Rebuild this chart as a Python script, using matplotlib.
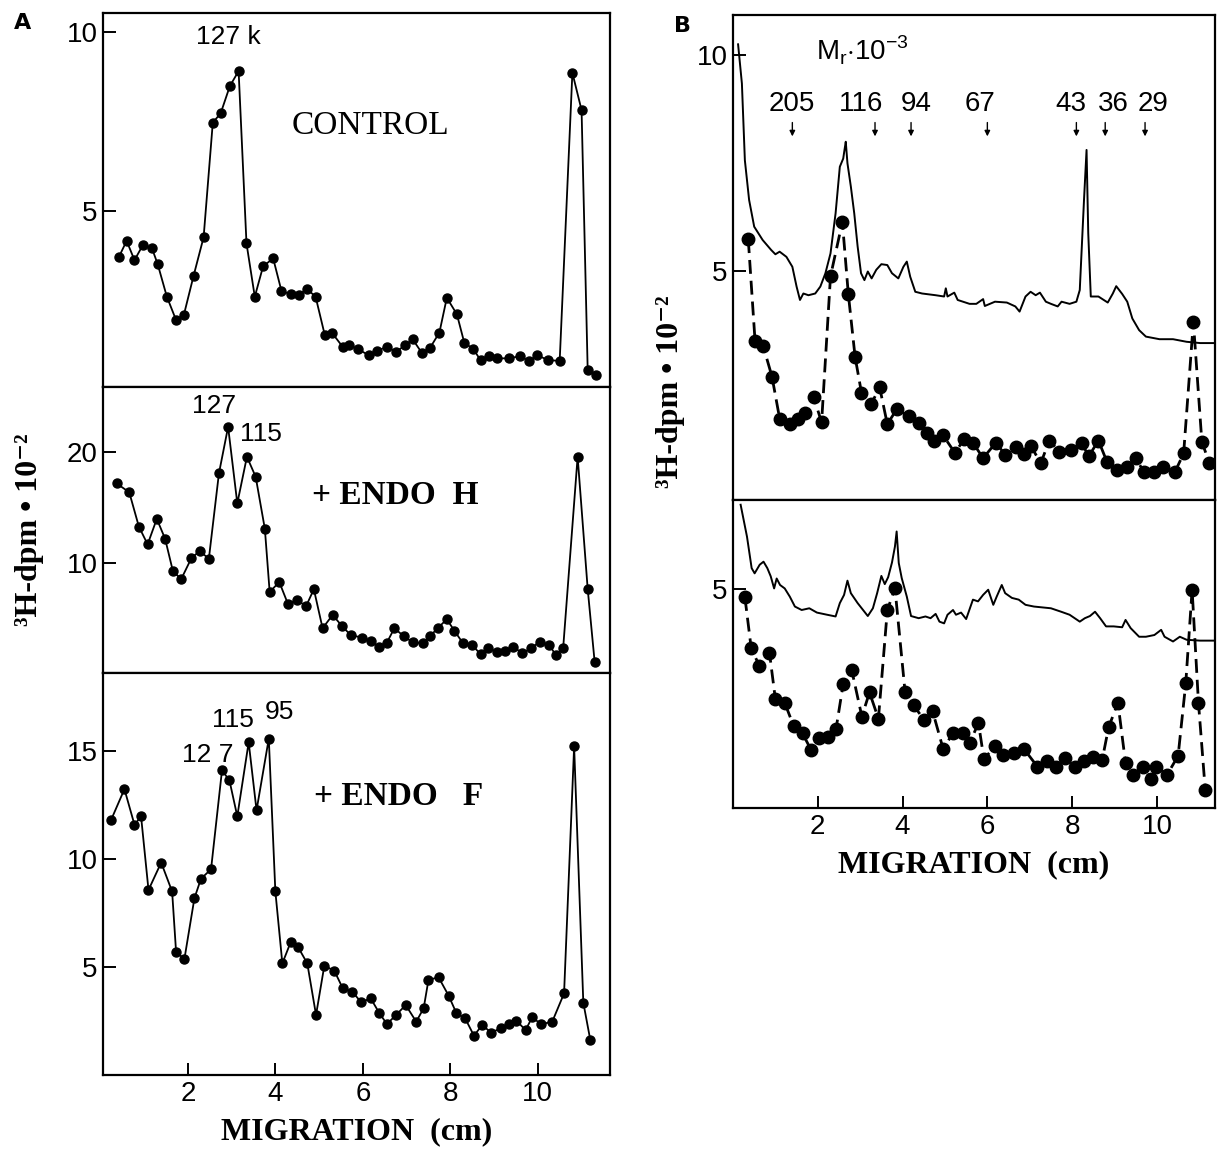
import numpy as np
import matplotlib.pyplot as plt

# ---- panel A data (migration in cm, 3H-dpm x 10^-2) ----
ctrl_x = [0.42, 0.60, 0.78, 0.97, 1.18, 1.31, 1.52, 1.73, 1.91, 2.13, 2.36, 2.57, 2.75, 2.96, 3.16,
          3.34, 3.53, 3.72, 3.95, 4.14, 4.35, 4.54, 4.72, 4.92, 5.13, 5.29, 5.54, 5.69, 5.90, 6.13,
          6.32, 6.55, 6.76, 6.97, 7.14, 7.35, 7.54, 7.75, 7.92, 8.15, 8.32, 8.52, 8.69, 8.88, 9.07,
          9.34, 9.59, 9.80, 9.99, 10.23, 10.50, 10.79, 11.00, 11.14, 11.33]
ctrl_y = [3.70, 4.16, 3.62, 4.04, 3.95, 3.51, 2.60, 1.95, 2.10, 3.18, 4.26, 7.46, 7.72, 8.48, 8.90,
          4.09, 2.60, 3.45, 3.67, 2.76, 2.67, 2.65, 2.82, 2.60, 1.53, 1.60, 1.20, 1.25, 1.13, 0.97,
          1.09, 1.20, 1.06, 1.25, 1.41, 1.03, 1.18, 1.60, 2.57, 2.11, 1.31, 1.15, 0.83, 0.94, 0.88,
          0.88, 0.94, 0.81, 0.97, 0.83, 0.81, 8.85, 7.81, 0.55, 0.41]

endoh_x = [0.37, 0.66, 0.88, 1.08, 1.29, 1.48, 1.66, 1.85, 2.08, 2.27, 2.48, 2.71, 2.92, 3.13, 3.35,
           3.55, 3.76, 3.87, 4.09, 4.29, 4.50, 4.70, 4.88, 5.08, 5.31, 5.52, 5.72, 5.98, 6.18, 6.36,
           6.55, 6.72, 6.93, 7.14, 7.37, 7.54, 7.71, 7.92, 8.09, 8.29, 8.50, 8.69, 8.86, 9.06, 9.26,
           9.44, 9.64, 9.85, 10.04, 10.26, 10.41, 10.58, 10.91, 11.14, 11.30]
endoh_y = [17.2, 16.4, 13.3, 11.7, 14.0, 12.2, 9.25, 8.58, 10.45, 11.1, 10.4, 18.1, 22.3, 15.4, 19.6,
           17.8, 13.1, 7.4, 8.3, 6.3, 6.7, 6.1, 7.65, 4.13, 5.33, 4.34, 3.52, 3.28, 2.98, 2.47,
           2.83, 4.13, 3.43, 2.86, 2.77, 3.43, 4.13, 4.94, 3.92, 2.77, 2.62, 1.78, 2.32, 2.02, 2.11,
           2.47, 1.87, 2.32, 2.92, 2.62, 1.72, 2.38, 19.6, 7.68, 1.05]

endof_x = [0.24, 0.55, 0.78, 0.93, 1.10, 1.39, 1.64, 1.73, 1.92, 2.15, 2.30, 2.53, 2.78, 2.95, 3.13,
           3.39, 3.57, 3.85, 4.00, 4.16, 4.35, 4.52, 4.73, 4.93, 5.12, 5.35, 5.54, 5.76, 5.96, 6.18,
           6.37, 6.55, 6.76, 6.98, 7.22, 7.39, 7.50, 7.73, 7.96, 8.14, 8.34, 8.54, 8.73, 8.93, 9.15,
           9.34, 9.51, 9.72, 9.87, 10.08, 10.33, 10.60, 10.83, 11.04, 11.20]
endof_y = [11.77, 13.22, 11.57, 11.96, 8.55, 9.82, 8.48, 5.70, 5.34, 8.17, 9.07, 9.51, 14.09, 13.63, 11.96,
           15.39, 12.24, 15.56, 8.48, 5.15, 6.13, 5.90, 5.15, 2.76, 5.05, 4.80, 4.00, 3.84, 3.35, 3.53,
           2.87, 2.34, 2.76, 3.22, 2.45, 3.07, 4.38, 4.51, 3.66, 2.84, 2.60, 1.80, 2.30, 1.94, 2.14,
           2.34, 2.50, 2.06, 2.65, 2.33, 2.45, 3.76, 15.20, 3.33, 1.60]

# ---- panel B data ----
b1_dot_x = [0.36, 0.52, 0.71, 0.92, 1.10, 1.34, 1.54, 1.70, 1.90, 2.09, 2.30, 2.58, 2.72, 2.88, 3.03,
            3.26, 3.46, 3.64, 3.86, 4.14, 4.38, 4.58, 4.74, 4.95, 5.23, 5.46, 5.66, 5.90, 6.20, 6.42,
            6.68, 6.86, 7.03, 7.26, 7.46, 7.70, 7.98, 8.23, 8.39, 8.62, 8.82, 9.06, 9.30, 9.50, 9.70,
            9.94, 10.15, 10.42, 10.63, 10.86, 11.06, 11.24]
b1_dot_y = [5.73, 3.37, 3.26, 2.54, 1.57, 1.44, 1.57, 1.69, 2.08, 1.48, 4.87, 6.13, 4.46, 3.00, 2.17,
            1.91, 2.29, 1.44, 1.78, 1.63, 1.46, 1.23, 1.06, 1.19, 0.78, 1.09, 1.01, 0.65, 1.01, 0.73,
            0.92, 0.75, 0.93, 0.53, 1.06, 0.80, 0.83, 1.00, 0.69, 1.06, 0.57, 0.38, 0.45, 0.65, 0.32,
            0.32, 0.45, 0.32, 0.76, 3.81, 1.03, 0.53]

b1_trace_x = [0.12, 0.21, 0.28, 0.38, 0.50, 0.70, 0.90, 1.00, 1.10, 1.26, 1.40, 1.50, 1.58, 1.66, 1.78,
              1.94, 2.06, 2.18, 2.30, 2.42, 2.52, 2.60, 2.63, 2.66, 2.70, 2.78, 2.86, 2.94, 3.02, 3.10,
              3.18, 3.27, 3.38, 3.50, 3.64, 3.75, 3.90, 4.02, 4.10, 4.18, 4.30, 4.46, 4.78, 4.98, 5.02,
              5.06, 5.22, 5.30, 5.58, 5.74, 5.90, 5.94, 6.18, 6.46, 6.66, 6.76, 6.90, 7.02, 7.14, 7.24,
              7.38, 7.50, 7.66, 7.75, 7.94, 8.10, 8.18, 8.28, 8.34, 8.38, 8.44, 8.62, 8.84, 8.96, 9.04,
              9.18, 9.30, 9.42, 9.58, 9.74, 10.06, 10.38, 10.70, 11.02, 11.37]
b1_trace_y = [10.25, 9.34, 7.56, 6.64, 6.02, 5.71, 5.48, 5.38, 5.44, 5.32, 5.09, 4.63, 4.32, 4.47, 4.43,
              4.47, 4.63, 4.94, 5.40, 6.33, 7.41, 7.60, 7.80, 7.99, 7.49, 6.95, 6.33, 5.56, 4.94, 4.78,
              4.98, 4.82, 5.02, 5.15, 5.13, 4.94, 4.82, 5.09, 5.21, 4.86, 4.51, 4.47, 4.43, 4.40, 4.59,
              4.40, 4.49, 4.32, 4.23, 4.23, 4.34, 4.18, 4.28, 4.26, 4.17, 4.05, 4.40, 4.51, 4.43, 4.49,
              4.28, 4.23, 4.17, 4.28, 4.23, 4.28, 4.55, 6.64, 7.80, 5.87, 4.40, 4.40, 4.26, 4.47, 4.64,
              4.46, 4.28, 3.89, 3.62, 3.47, 3.41, 3.41, 3.35, 3.32, 3.32]

b2_dot_x = [0.28, 0.43, 0.62, 0.86, 1.00, 1.22, 1.43, 1.64, 1.84, 2.03, 2.23, 2.43, 2.60, 2.80, 3.04,
            3.22, 3.43, 3.64, 3.82, 4.06, 4.26, 4.51, 4.71, 4.96, 5.18, 5.42, 5.58, 5.79, 5.92, 6.18,
            6.38, 6.62, 6.87, 7.18, 7.40, 7.63, 7.83, 8.07, 8.28, 8.50, 8.71, 8.86, 9.08, 9.26, 9.44,
            9.66, 9.86, 9.98, 10.24, 10.50, 10.68, 10.83, 10.98, 11.14]
b2_dot_y = [4.81, 3.62, 3.22, 3.52, 2.44, 2.36, 1.82, 1.65, 1.27, 1.54, 1.56, 1.75, 2.80, 3.12, 2.04,
            2.60, 1.99, 4.50, 5.02, 2.60, 2.30, 1.96, 2.16, 1.28, 1.65, 1.65, 1.42, 1.89, 1.05, 1.36,
            1.15, 1.19, 1.28, 0.88, 1.02, 0.88, 1.07, 0.86, 1.00, 1.11, 1.04, 1.79, 2.36, 0.96, 0.69,
            0.88, 0.59, 0.88, 0.69, 1.13, 2.81, 4.98, 2.36, 0.34]

b2_trace_x = [0.18, 0.33, 0.44, 0.51, 0.63, 0.72, 0.81, 0.89, 0.97, 1.03, 1.11, 1.22, 1.34, 1.46, 1.62,
              1.80, 1.98, 2.22, 2.42, 2.52, 2.62, 2.70, 2.78, 2.94, 3.10, 3.18, 3.30, 3.40, 3.50, 3.58,
              3.66, 3.75, 3.82, 3.86, 3.91, 3.98, 4.10, 4.20, 4.38, 4.54, 4.66, 4.78, 4.87, 4.98, 5.06,
              5.19, 5.26, 5.38, 5.50, 5.66, 5.78, 5.90, 6.02, 6.14, 6.22, 6.34, 6.42, 6.58, 6.74, 6.90,
              7.10, 7.30, 7.50, 7.74, 7.94, 8.06, 8.18, 8.30, 8.42, 8.54, 8.66, 8.80, 8.98, 9.18, 9.26,
              9.38, 9.58, 9.74, 9.94, 10.10, 10.18, 10.38, 10.54, 10.70, 11.02, 11.37]
b2_trace_y = [6.95, 6.21, 5.48, 5.36, 5.56, 5.63, 5.48, 5.29, 5.01, 5.24, 5.09, 5.01, 4.82, 4.59, 4.51,
              4.55, 4.45, 4.40, 4.36, 4.67, 4.86, 5.19, 4.90, 4.67, 4.47, 4.37, 4.55, 4.90, 5.30, 5.11,
              5.27, 5.61, 5.98, 6.33, 5.60, 5.25, 4.82, 4.37, 4.32, 4.36, 4.32, 4.42, 4.24, 4.20, 4.40,
              4.51, 4.40, 4.45, 4.30, 4.75, 4.71, 4.86, 4.98, 4.63, 4.82, 5.09, 4.90, 4.79, 4.75, 4.63,
              4.59, 4.57, 4.55, 4.47, 4.40, 4.32, 4.24, 4.32, 4.37, 4.47, 4.32, 4.13, 4.13, 4.11, 4.28,
              4.09, 3.89, 3.89, 3.93, 4.05, 3.89, 3.78, 3.89, 3.82, 3.80, 3.80]

mw_labels = ["205", "116", "94", "67", "43", "36", "29"]
mw_label_x = [1.38, 3.02, 4.32, 5.82, 7.98, 8.96, 9.90]
mw_arrow_x = [1.40, 3.35, 4.20, 6.00, 8.10, 8.78, 9.72]

W, H = 1220, 1160
fig = plt.figure(figsize=(W / 100, H / 100), dpi=100)

sans = ['Liberation Sans', 'DejaVu Sans']
serif = ['Liberation Serif', 'DejaVu Serif']
plt.rcParams['mathtext.fontset'] = 'custom'
plt.rcParams['mathtext.rm'] = 'Liberation Sans'


def box(x0, y0, x1, y1):
    # pixel box (top-left origin) -> figure fraction
    return [x0 / W, 1 - y1 / H, (x1 - x0) / W, (y1 - y0) / H]


def style(ax, yticks, xticks=()):
    for s in ax.spines.values():
        s.set_linewidth(1.6)
    ax.set_yticks(yticks)
    ax.set_xticks(xticks)
    ax.tick_params(direction='in', length=9, width=1.4, pad=4, labelsize=20)
    for lab in ax.get_xticklabels() + ax.get_yticklabels():
        lab.set_family(sans)


# panel A
axA1 = fig.add_axes(box(103, 13, 610, 387))
axA2 = fig.add_axes(box(103, 387, 610, 673))
axA3 = fig.add_axes(box(103, 673, 610, 1075))

kw = dict(color='black', lw=1.3, marker='o', ms=6.5)
axA1.plot(ctrl_x, ctrl_y, **kw)
axA2.plot(endoh_x, endoh_y, **kw)
axA3.plot(endof_x, endof_y, **kw)

for ax in (axA1, axA2, axA3):
    ax.set_xlim(0.06, 11.65)
axA1.set_ylim(0.08, 10.52)
axA2.set_ylim(0.09, 25.9)
axA3.set_ylim(-0.02, 18.6)
style(axA1, [5, 10])
style(axA2, [10, 20])
style(axA3, [5, 10, 15], [2, 4, 6, 8, 10])

axA1.text(2.93, 9.85, "127 k", fontsize=19, family=sans, ha='center', va='center')
axA1.text(6.18, 7.37, "CONTROL", fontsize=24, family=serif, ha='center', va='center')
axA2.text(2.61, 24.2, "127", fontsize=19, family=sans, ha='center', va='center')
axA2.text(3.68, 21.7, "115", fontsize=19, family=sans, ha='center', va='center')
axA2.text(6.74, 16.1, "+ ENDO  H", fontsize=24, family=serif, weight='bold', ha='center', va='center')
axA3.text(2.46, 14.8, "12 7", fontsize=19, family=sans, ha='center', va='center')
axA3.text(3.04, 16.4, "115", fontsize=19, family=sans, ha='center', va='center')
axA3.text(4.10, 16.8, "95", fontsize=19, family=sans, ha='center', va='center')
axA3.text(6.81, 12.9, "+ ENDO   F", fontsize=24, family=serif, weight='bold', ha='center', va='center')
axA3.set_xlabel("MIGRATION  (cm)", fontsize=23, family=serif, weight='bold', labelpad=8)

# panel B
axB1 = fig.add_axes(box(733, 15, 1215, 500))
axB2 = fig.add_axes(box(733, 500, 1215, 808))

dkw = dict(color='black', lw=2.0, ls=(0, (5, 2.5)), marker='o', ms=9)
tkw = dict(color='black', lw=1.4)
axB1.plot(b1_trace_x, b1_trace_y, **tkw)
axB1.plot(b1_dot_x, b1_dot_y, **dkw)
axB2.plot(b2_trace_x, b2_trace_y, **tkw)
axB2.plot(b2_dot_x, b2_dot_y, **dkw)

for ax in (axB1, axB2):
    ax.set_xlim(0, 11.37)
axB1.set_ylim(-0.32, 10.93)
axB2.set_ylim(-0.08, 7.06)
style(axB1, [5, 10])
style(axB2, [5], [2, 4, 6, 8, 10])

axB1.text(1.95, 10.1, r"M$_\mathregular{r}$$\cdot$10$^{\mathregular{-3}}$", fontsize=20,
          family=sans, ha='left', va='center')
for lab, lx, axx in zip(mw_labels, mw_label_x, mw_arrow_x):
    axB1.text(lx, 8.86, lab, fontsize=20, family=sans, ha='center', va='center')
    axB1.annotate("", xy=(axx, 8.05), xytext=(axx, 8.50),
                  arrowprops=dict(arrowstyle='-|>', color='black', lw=1.0,
                                  mutation_scale=8))
axB2.set_xlabel("MIGRATION  (cm)", fontsize=23, family=serif, weight='bold', labelpad=8)

# shared labels
ylab = "³H-dpm • 10⁻²"
fig.text(30 / W, 1 - 530 / H, ylab, rotation=90, fontsize=23, family=serif,
         weight='bold', ha='center', va='center')
fig.text(670 / W, 1 - 392 / H, ylab, rotation=90, fontsize=23, family=serif,
         weight='bold', ha='center', va='center')
fig.text(23 / W, 1 - 23 / H, "A", fontsize=16, weight='bold', ha='center', va='center')
fig.text(683 / W, 1 - 26 / H, "B", fontsize=16, weight='bold', ha='center', va='center')

fig.savefig("out.png", dpi=100)
